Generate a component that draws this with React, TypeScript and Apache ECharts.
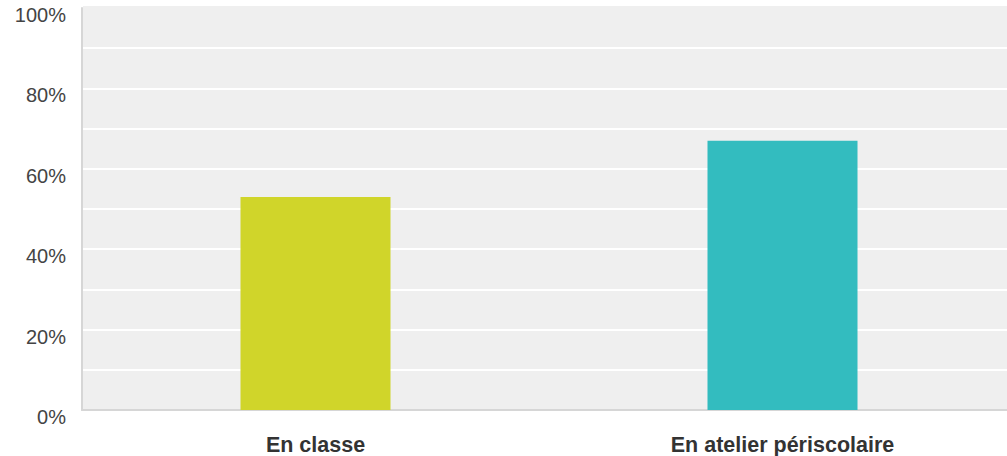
import React, { useEffect, useRef } from "react";
import * as echarts from "echarts";

const categories = ["En classe", "En atelier périscolaire"];
const values = [53, 67];
const barColors = ["#d0d52a", "#33bcbf"];
const yTicks = [0, 20, 40, 60, 80, 100];

export default function App() {
  const ref = useRef<HTMLDivElement>(null);
  useEffect(() => {
    if (!ref.current) return;
    const chart = echarts.init(ref.current, undefined, { renderer: "svg" });
    chart.setOption({
      animation: false,
      grid: {
        left: 82,
        top: 8,
        width: 934,
        bottom: 46,
        show: true,
        backgroundColor: "#efefef",
        borderWidth: 0,
      },
      graphic: [
        {
          type: "rect",
          z: 100,
          shape: { x: 83, y: 6, width: 940, height: 3 },
          style: { fill: "#efefef" },
        },
      ],
      xAxis: {
        type: "category",
        data: categories,
        axisTick: { show: false },
        axisLine: { show: true, lineStyle: { color: "#d6d6d6", width: 2 } },
        axisLabel: {
          margin: 24,
          fontFamily: "Liberation Sans, Arial, sans-serif",
          fontSize: 21.5,
          fontWeight: "bold",
          color: "#333333",
        },
      },
      yAxis: {
        type: "value",
        min: 0,
        max: 100,
        interval: 10,
        axisLine: { show: true, lineStyle: { color: "#d6d6d6", width: 2 } },
        axisTick: { show: false },
        splitLine: { show: true, lineStyle: { color: "#ffffff", width: 2 } },
        axisLabel: {
          margin: 16,
          fontFamily: "Liberation Sans, Arial, sans-serif",
          fontSize: 20,
          color: "#444444",
          verticalAlign: "top",
          lineHeight: 14,
          formatter: (v: number) => (yTicks.includes(v) ? v + "%" : ""),
        },
      },
      series: [
        {
          type: "bar",
          barWidth: 150,
          data: values.map((v, i) => ({
            value: v,
            itemStyle: { color: barColors[i] },
          })),
        },
      ],
    });
    return () => chart.dispose();
  }, []);
  return (
    <div
      style={{
        position: "absolute",
        left: 0,
        top: 0,
        width: 1007,
        height: 456,
        overflow: "hidden",
        background: "#ffffff",
      }}
    >
      <div ref={ref} style={{ width: 1020, height: 456 }} />
    </div>
  );
}
